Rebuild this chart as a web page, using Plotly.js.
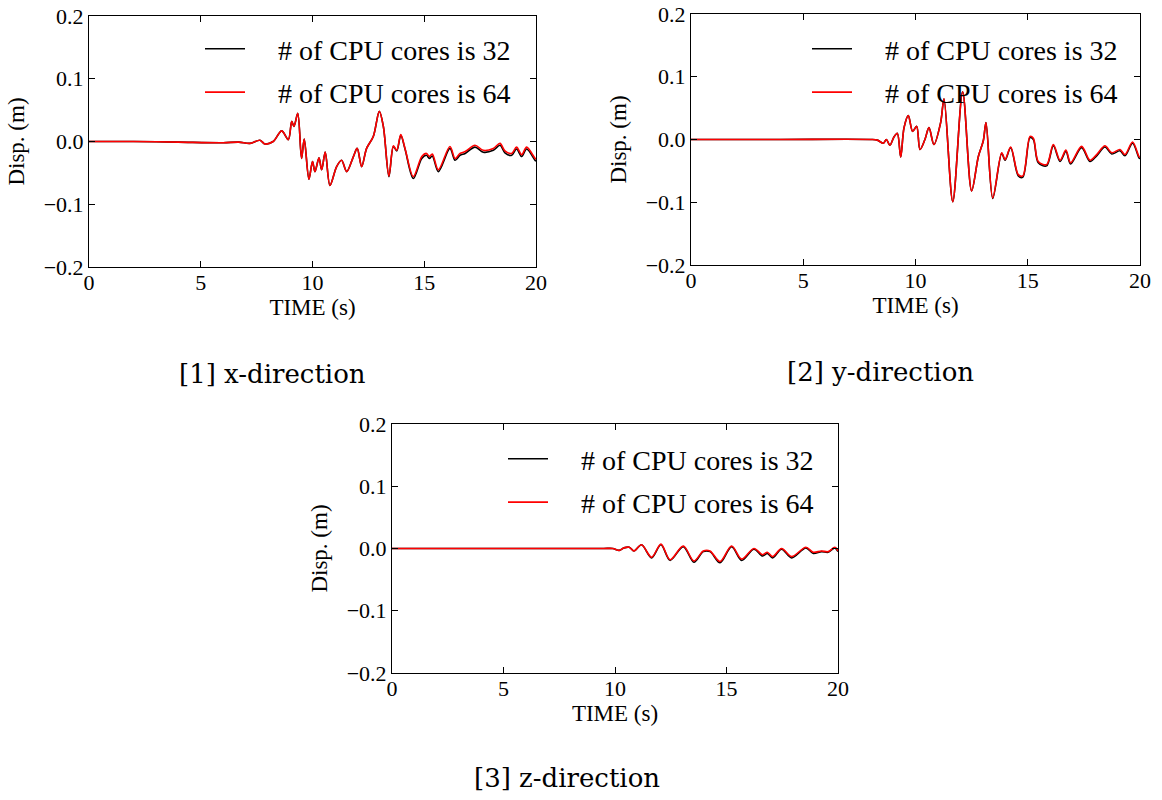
<!DOCTYPE html>
<html>
<head>
<meta charset="utf-8">
<script src="https://cdn.plot.ly/plotly-3.0.1.min.js"></script>
<style>html,body{margin:0;padding:0;background:#fff;}#chart{width:1162px;height:800px;}</style>
</head>
<body>
<div id="chart"></div>
<script>
// ---- data ----
const seriesNames = ["# of CPU cores is 32", "# of CPU cores is 64"];
const captions = ["[1] x-direction", "[2] y-direction", "[3] z-direction"];
const xTicks = [0, 5, 10, 15, 20];
const yTicks = [0.2, 0.1, 0.0, -0.1, -0.2];
const yTickText = ["0.2", "0.1", "0.0", "\u22120.1", "\u22120.2"];

// x-direction
const tX = [0, 2, 4, 6, 6.7, 7.2, 7.65, 7.87, 8.24, 8.62, 8.92, 9.07, 9.17, 9.34, 9.51, 9.63, 9.84, 10.0, 10.11, 10.29, 10.41, 10.57, 10.78, 11.08, 11.3, 11.53, 11.83, 12.0, 12.2, 12.42, 12.72, 12.99, 13.17, 13.42, 13.62, 13.77, 13.95, 14.14, 14.51, 14.89, 15.1, 15.23, 15.36, 15.63, 16.15, 16.38, 16.6, 16.83, 17.27, 17.64, 18.09, 18.39, 18.61, 18.91, 19.13, 19.36, 19.58, 19.96, 20];
const dispX64 = [0, 0, -0.001, -0.002, -0.001, -0.003, 0.002, -0.004, 0.0, 0.017, 0.003, 0.032, 0.024, 0.045, -0.027, 0.004, -0.060, -0.032, -0.048, -0.026, -0.045, -0.017, -0.070, -0.040, -0.030, -0.048, -0.024, -0.011, -0.040, -0.011, 0.008, 0.048, 0.024, -0.055, -0.007, -0.014, 0.011, -0.011, -0.056, -0.024, -0.019, -0.024, -0.020, -0.045, -0.008, -0.027, -0.019, -0.016, -0.006, -0.014, -0.011, -0.003, -0.015, -0.019, -0.009, -0.021, -0.009, -0.027, -0.028];
const dispX32 = [0, 0, -0.001, -0.002, -0.001, -0.003, 0.002, -0.004, 0.0, 0.017, 0.003, 0.032, 0.024, 0.045, -0.027, 0.004, -0.060, -0.032, -0.048, -0.026, -0.045, -0.017, -0.070, -0.040, -0.030, -0.048, -0.024, -0.011, -0.040, -0.011, 0.008, 0.048, 0.024, -0.056, -0.008, -0.015, 0.010, -0.012, -0.059, -0.027, -0.022, -0.027, -0.023, -0.048, -0.011, -0.030, -0.022, -0.019, -0.009, -0.017, -0.014, -0.006, -0.018, -0.022, -0.012, -0.024, -0.012, -0.030, -0.031];

// y-direction
const tY = [0, 4, 8, 8.3, 8.57, 8.7, 8.86, 9.04, 9.19, 9.34, 9.49, 9.68, 9.87, 10.05, 10.2, 10.42, 10.6, 10.82, 11.12, 11.27, 11.66, 12.1, 12.5, 12.8, 13.02, 13.14, 13.44, 13.84, 13.99, 14.24, 14.58, 14.78, 15.1, 15.25, 15.47, 15.84, 16.14, 16.44, 16.7, 16.91, 17.4, 17.77, 18.07, 18.44, 18.74, 19.11, 19.33, 19.67, 19.97, 20];
const dispY64 = [0, 0, 0, -0.001, -0.006, 0, -0.009, 0.004, 0.010, -0.028, 0.019, 0.038, 0.013, 0.021, -0.016, 0, 0.019, -0.008, 0.027, 0.065, -0.099, 0.076, -0.082, -0.027, -0.002, 0.027, -0.093, -0.021, -0.032, -0.012, -0.056, -0.058, 0.005, 0.002, -0.035, -0.040, -0.008, -0.033, -0.017, -0.037, -0.011, -0.033, -0.024, -0.010, -0.021, -0.016, -0.024, -0.004, -0.028, -0.027];
const dispY32 = [0, 0, 0, -0.001, -0.006, 0, -0.009, 0.004, 0.010, -0.028, 0.019, 0.038, 0.013, 0.021, -0.016, 0, 0.019, -0.008, 0.027, 0.065, -0.099, 0.076, -0.082, -0.027, -0.002, 0.027, -0.094, -0.022, -0.033, -0.013, -0.058, -0.060, 0.003, 0.000, -0.037, -0.042, -0.010, -0.035, -0.019, -0.039, -0.013, -0.035, -0.026, -0.012, -0.023, -0.018, -0.026, -0.006, -0.030, -0.029];

// z-direction
const tZ = [0, 5, 8, 9.5, 9.9, 10.19, 10.4, 10.64, 10.85, 11.19, 11.64, 12.06, 12.47, 13.06, 13.54, 13.96, 14.26, 14.71, 15.23, 15.68, 16.23, 16.62, 16.83, 17.07, 17.47, 17.92, 18.56, 18.89, 19.26, 19.56, 19.86, 20];
const dispZ64 = [0, 0, 0, 0, 0, -0.003, 0.001, 0.002, -0.004, 0.006, -0.014, 0.007, -0.018, 0.004, -0.020, -0.004, -0.004, -0.021, 0.004, -0.017, 0, -0.010, -0.006, -0.013, 0, -0.013, 0.002, -0.006, -0.004, -0.005, 0.002, -0.004];
const dispZ32 = [0, 0, 0, 0, 0, -0.003, 0.001, 0.002, -0.004, 0.006, -0.015, 0.006, -0.019, 0.003, -0.022, -0.005, -0.005, -0.023, 0.003, -0.019, -0.001, -0.012, -0.008, -0.015, -0.001, -0.015, 0.001, -0.008, -0.005, -0.006, 0.001, -0.005];

// ---- traces ----
const colors = ["#000000", "#ff0000"];
const sets = [
  {t: tX, s: [dispX32, dispX64], xa: "x", ya: "y", lg: "legend"},
  {t: tY, s: [dispY32, dispY64], xa: "x2", ya: "y2", lg: "legend2"},
  {t: tZ, s: [dispZ32, dispZ64], xa: "x3", ya: "y3", lg: "legend3"}
];
const LEG_PAD = "\u2002\u2002"; // visual gap between legend line and label
const traces = [];
sets.forEach(set => {
  set.s.forEach((vals, i) => {
    traces.push({
      x: set.t, y: vals, type: "scatter", mode: "lines",
      name: LEG_PAD + seriesNames[i], xaxis: set.xa, yaxis: set.ya, legend: set.lg,
      legendgroup: set.lg + i,
      line: {color: colors[i], width: 1.6, shape: "spline", smoothing: 0.9}
    });
  });
});

const W = 1162, H = 800;
const SERIF = "Liberation Serif";
const tickFont = {family: SERIF, size: 22, color: "#000"};
const titleFont = {family: SERIF, size: 23, color: "#000"};
function xax(px0, px1, anchor) {
  return {domain: [px0 / W, px1 / W], anchor: anchor, range: [0, 20], tickvals: xTicks,
    ticks: "inside", ticklen: 6, tickcolor: "#000", showline: true, linecolor: "#000", linewidth: 1,
    mirror: "ticks", showgrid: false, zeroline: false, tickfont: tickFont, ticklabelstandoff: -4,
    title: {text: "TIME (s)", font: titleFont, standoff: 0}};
}
function yax(py0, py1, anchor) {
  return {domain: [1 - py1 / H, 1 - py0 / H], anchor: anchor, range: [-0.2, 0.2], tickvals: yTicks, ticktext: yTickText,
    ticks: "inside", ticklen: 6, tickcolor: "#000", showline: true, linecolor: "#000", linewidth: 1,
    mirror: "ticks", showgrid: false, zeroline: false, tickfont: tickFont,
    title: {text: "Disp. (m)", font: titleFont, standoff: 12}};
}
const legFont = {family: SERIF, size: 28, color: "#000"};
function leg(px, py) {
  return {x: px / W, y: 1 - py / H, xanchor: "left", yanchor: "top", font: legFont,
    bgcolor: "rgba(0,0,0,0)", borderwidth: 0, tracegroupgap: 4, itemwidth: 40};
}
const capFont = {family: "DejaVu Serif", size: 26, color: "#000"};
function cap(text, px, py) {
  return {text: text, x: px / W, y: 1 - py / H, xref: "paper", yref: "paper", xanchor: "center", yanchor: "middle",
    showarrow: false, font: capFont};
}

const layout = {
  width: W, height: H, margin: {l: 0, r: 0, t: 0, b: 0},
  font: {family: SERIF, color: "#000"},
  paper_bgcolor: "#fff", plot_bgcolor: "#fff", showlegend: true,
  xaxis: xax(89, 536, "y"), yaxis: yax(16, 267, "x"),
  xaxis2: xax(691, 1140, "y2"), yaxis2: yax(14, 265, "x2"),
  xaxis3: xax(392, 838, "y3"), yaxis3: yax(424, 673, "x3"),
  legend: leg(200, 24), legend2: leg(807, 24), legend3: leg(503, 434),
  annotations: [cap(captions[0], 272, 374), cap(captions[1], 880, 372), cap(captions[2], 567, 778)]
};
Plotly.newPlot("chart", traces, layout, {displayModeBar: false, staticPlot: true});
</script>
</body>
</html>
